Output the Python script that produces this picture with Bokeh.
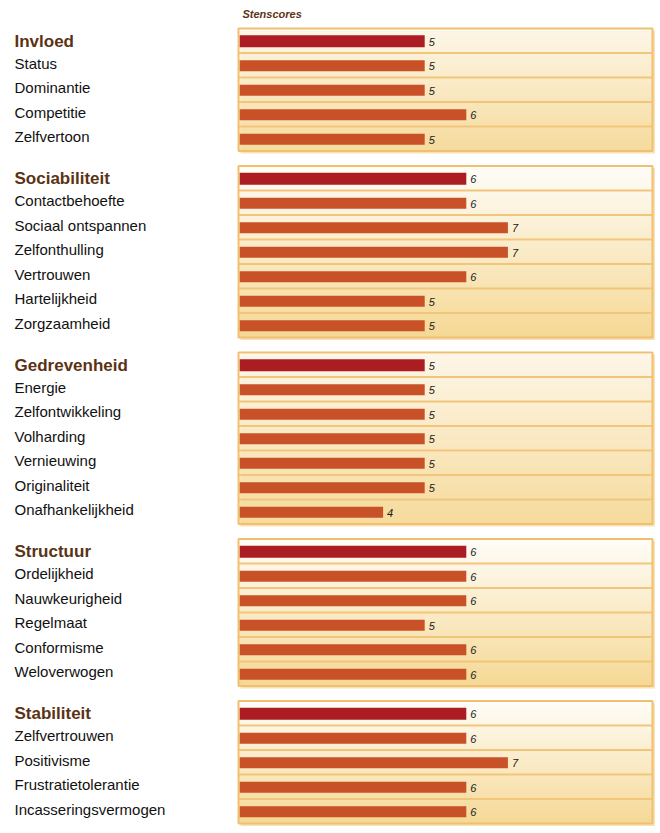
import numpy as np
from bokeh.plotting import figure
from bokeh.models import Range1d, ColumnDataSource
from bokeh.core.properties import value
from bokeh.embed import file_html
from bokeh.resources import INLINE

# ---------------- data ----------------
groups = ["Invloed", "Sociabiliteit", "Gedrevenheid", "Structuur", "Stabiliteit"]
group_scores = [5, 6, 5, 6, 6]

invloed_items = ["Status", "Dominantie", "Competitie", "Zelfvertoon"]
invloed_scores = [5, 5, 6, 5]

sociabiliteit_items = ["Contactbehoefte", "Sociaal ontspannen", "Zelfonthulling",
                       "Vertrouwen", "Hartelijkheid", "Zorgzaamheid"]
sociabiliteit_scores = [6, 7, 7, 6, 5, 5]

gedrevenheid_items = ["Energie", "Zelfontwikkeling", "Volharding", "Vernieuwing",
                      "Originaliteit", "Onafhankelijkheid"]
gedrevenheid_scores = [5, 5, 5, 5, 5, 4]

structuur_items = ["Ordelijkheid", "Nauwkeurigheid", "Regelmaat", "Conformisme", "Weloverwogen"]
structuur_scores = [6, 6, 5, 6, 6]

stabiliteit_items = ["Zelfvertrouwen", "Positivisme", "Frustratietolerantie", "Incasseringsvermogen"]
stabiliteit_scores = [6, 7, 6, 6]

group_items = [invloed_items, sociabiliteit_items, gedrevenheid_items, structuur_items, stabiliteit_items]
group_item_scores = [invloed_scores, sociabiliteit_scores, gedrevenheid_scores,
                     structuur_scores, stabiliteit_scores]

title_text = "Stenscores"

# ---------------- layout ----------------
OFF_X, OFF_Y = 0, 0          # page position of the canvas origin
W, H = 656, 830
X0_PAGE = 216.2   # page x of score 0
UNIT = 41.6       # px per score unit


def dx(px):
    return (px - X0_PAGE) / UNIT


def dy(py):
    return py - OFF_Y


ROW = 24.5
GAP = 15.0
TOP = 28.0

TOP_COL = np.array([0xFF, 0xFD, 0xF9], dtype=float)
BOT_COL = np.array([0xF5, 0xD8, 0x94], dtype=float)
BORDER = "#f0c070"
SEP = "#f2c67a"
HEAD_BAR = "#ab1d22"
ITEM_BAR = "#c85127"

p = figure(width=W, height=H, x_range=Range1d(dx(OFF_X), dx(OFF_X + W)),
           y_range=Range1d(dy(OFF_Y + H), dy(OFF_Y)),
           output_backend="svg", toolbar_location=None, min_border=0,
           x_axis_location=None, y_axis_location=None, outline_line_color=None)
p.grid.visible = False
p.background_fill_color = "white"
p.border_fill_color = "white"

bx0, bx1 = dx(238), dx(652)

grad = dict(left=[], right=[], top=[], bottom=[], color=[])
seps = dict(x0=[], x1=[], y0=[], y1=[])
boxes = dict(left=[], right=[], top=[], bottom=[])
shadows = dict(left=[], right=[], top=[], bottom=[])
bars = dict(left=[], right=[], top=[], bottom=[], color=[])
vals = dict(x=[], y=[], text=[])
labels_h = dict(x=[], y=[], text=[])
labels_i = dict(x=[], y=[], text=[])

top = TOP
for gname, gscore, items, scores in zip(groups, group_scores, group_items, group_item_scores):
    names = [gname] + items
    sc = [gscore] + scores
    n = len(names)
    ytop = top
    ybot = top + n * ROW
    hgt = ybot - ytop
    k = 0
    while ytop + k < ybot:
        t = (k + 0.5) / hgt
        c = TOP_COL + (BOT_COL - TOP_COL) * t
        grad["left"].append(bx0)
        grad["right"].append(bx1)
        grad["top"].append(dy(ytop + k))
        grad["bottom"].append(dy(min(ytop + k + 1.05, ybot)))
        grad["color"].append("#%02x%02x%02x" % tuple(int(round(v)) for v in c))
        k += 1
    for i in range(1, n):
        yy = dy(ytop + i * ROW)
        seps["x0"].append(bx0)
        seps["x1"].append(bx1)
        seps["y0"].append(yy)
        seps["y1"].append(yy)
    boxes["left"].append(bx0)
    boxes["right"].append(bx1)
    boxes["top"].append(dy(ytop))
    boxes["bottom"].append(dy(ybot))
    shadows["left"].append(dx(240))
    shadows["right"].append(dx(654.5))
    shadows["top"].append(dy(ytop + 2))
    shadows["bottom"].append(dy(ybot + 2.5))
    for i, (nm, s) in enumerate(zip(names, sc)):
        yc = ytop + (i + 0.5) * ROW
        bh = 12 if i == 0 else 11
        bars["left"].append(dx(239))
        bars["right"].append(s)
        bars["top"].append(dy(yc - bh / 2 + 0.5))
        bars["bottom"].append(dy(yc + bh / 2 + 0.5))
        bars["color"].append(HEAD_BAR if i == 0 else ITEM_BAR)
        vals["x"].append(s)
        vals["y"].append(dy(yc + 0.8))
        vals["text"].append(str(s))
        if i == 0:
            labels_h["x"].append(dx(14))
            labels_h["y"].append(dy(yc + 0.3))
            labels_h["text"].append(nm)
        else:
            labels_i["x"].append(dx(14))
            labels_i["y"].append(dy(yc - 2))
            labels_i["text"].append(nm)
    top = ybot + GAP

# shadow
p.quad(source=ColumnDataSource(shadows), left="left", right="right", top="top", bottom="bottom",
       fill_color="#f8e2b6", line_color=None)
# gradient backgrounds
p.quad(source=ColumnDataSource(grad), left="left", right="right", top="top", bottom="bottom",
       fill_color="color", line_color=None)
# row separators
p.segment(source=ColumnDataSource(seps), x0="x0", x1="x1", y0="y0", y1="y1",
          line_color=SEP, line_width=2)
# bars
p.quad(source=ColumnDataSource(bars), left="left", right="right", top="top", bottom="bottom",
       fill_color="color", line_color=None)
# box borders
p.quad(source=ColumnDataSource(boxes), left="left", right="right", top="top", bottom="bottom",
       fill_color=None, line_color=BORDER, line_width=2)

# value labels
p.text(source=ColumnDataSource(vals), x="x", y="y", text="text", x_offset=4,
       text_font=value("Liberation Sans"), text_font_size="11px", text_font_style="italic",
       text_color="#1a1a1a", text_baseline="middle", text_align="left")
# category labels
p.text(source=ColumnDataSource(labels_h), x="x", y="y", text="text",
       text_font=value("Liberation Sans"), text_font_size="17px", text_font_style="bold",
       text_color="#5b3314", text_baseline="middle", text_align="left")
p.text(source=ColumnDataSource(labels_i), x="x", y="y", text="text",
       text_font=value("Liberation Sans"), text_font_size="15px",
       text_color="#111111", text_baseline="middle", text_align="left")
# title
p.text(x=[dx(242)], y=[dy(13)], text=[title_text],
       text_font=value("Liberation Sans"), text_font_size="11px", text_font_style="bold italic",
       text_color="#5b3314", text_baseline="middle", text_align="left")

open("out.html", "w").write(file_html(p, INLINE))
